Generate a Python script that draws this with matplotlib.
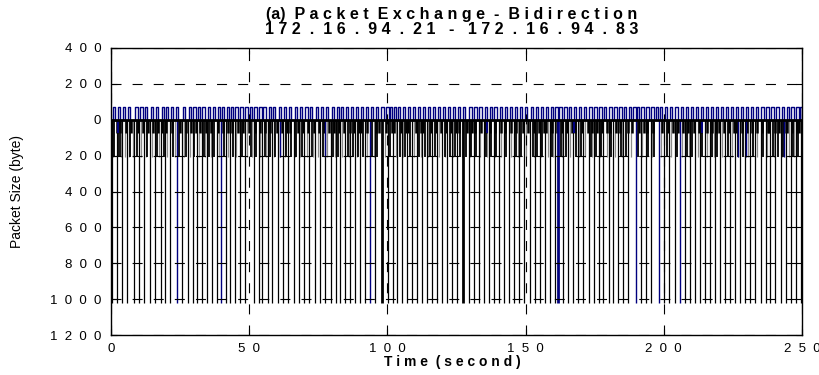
import numpy as np
import matplotlib
matplotlib.use('Agg')
import matplotlib.pyplot as plt

plt.rcParams['font.family'] = ['Liberation Sans', 'DejaVu Sans']

# Packet arrival times (s)
# full size data packets (drawn downwards)
big_t = [0.5, 2.2, 4.1, 5.9, 8.5, 10.3, 12.1, 14.1, 15.9, 18.1, 19.6, 21.4,
         25.8, 28.0, 29.5, 31.0, 32.8, 34.7, 36.5, 38.3, 41.5, 43.1, 44.7,
         46.5, 48.3, 51.6, 53.4, 54.8, 56.8, 58.4, 60.4, 62.3, 64.2, 66.1,
         67.9, 70.0, 71.7, 73.7, 75.7, 77.5, 79.5, 81.4, 83.0, 84.8, 86.6,
         88.4, 90.2, 92.0, 95.4, 100.2, 102.0, 103.6, 105.3, 107.1, 109.0,
         110.7, 112.5, 114.4, 116.2, 118.0, 119.8, 121.6, 123.4, 125.2, 129.4,
         131.2, 133.0, 134.9, 136.7, 138.4, 140.3, 142.1, 144.0, 145.8, 147.5,
         149.4, 151.6, 153.4, 155.2, 157.0, 158.8, 160.5, 163.7, 165.5, 167.3,
         169.0, 170.9, 172.8, 174.6, 176.4, 178.1, 180.0, 181.8, 183.6, 185.4,
         187.2, 191.6, 193.4, 195.2, 200.2, 202.0, 203.9, 207.6, 209.4, 211.2,
         213.1, 214.9, 216.7, 218.5, 220.4, 222.2, 224.0, 225.8, 227.6, 229.5,
         231.3, 233.1, 235.0, 236.8, 238.6, 240.4, 242.3, 244.1, 245.9, 247.7,
         249.6]
thick_t = [98.1, 127.5]
big_blue_t = [23.8, 39.9, 93.6, 189.9, 198.1, 205.8]
thick_blue_t = [161.8]

# small packets, the dense band between 0 and -200
mid_t = [1.2, 2.6, 3.1, 7.0, 9.4, 13.0, 16.8, 19.0, 22.5, 24.6, 27.2, 30.2,
         33.6, 35.5, 37.4, 41.0, 44.0, 47.4, 50.5, 52.6, 55.7, 57.6, 59.4,
         63.2, 65.0, 67.0, 69.1, 72.6, 76.6, 80.4, 82.2, 85.7, 87.5, 89.3,
         91.1, 94.5, 96.4, 101.1, 104.4, 106.2, 108.0, 111.6, 113.5, 115.3,
         117.1, 120.7, 122.5, 124.3, 126.1, 128.4, 130.3, 132.1, 135.8, 137.5,
         139.4, 143.0, 146.7, 148.5, 152.5, 154.3, 156.1, 159.6, 162.8, 164.6,
         168.2, 170.0, 173.7, 175.5, 177.2, 181.0, 184.5, 186.3, 190.7, 194.3,
         196.6, 201.1, 204.8, 208.5, 210.3, 214.0, 217.6, 219.4, 223.1, 226.7,
         228.5, 232.2, 235.9, 239.5, 241.4, 243.2, 246.8, 248.6]
gray_t = [0.9, 3.6, 5.0, 6.6, 8.0, 11.0, 12.8, 14.8, 17.4, 20.4, 23.0, 26.5,
          28.7, 31.8, 34.0, 36.0, 39.0, 42.3, 45.4, 49.2, 51.0, 54.0, 56.2,
          58.9, 61.2, 62.9, 66.6, 68.5, 70.8, 73.0, 74.9, 78.3, 81.0, 83.7,
          86.0, 88.9, 92.6, 95.0, 99.2, 103.0, 105.8, 109.6, 112.0, 114.8,
          118.6, 121.0, 123.8, 127.0, 129.8, 133.6, 136.1, 138.8, 141.2, 144.6,
          147.1, 150.3, 153.0, 155.6, 158.1, 160.0, 163.2, 166.2, 169.5, 171.6,
          174.1, 176.9, 179.3, 182.4, 185.0, 188.1, 192.2, 195.8, 199.0, 202.6,
          206.5, 209.0, 212.2, 215.5, 218.0, 221.0, 224.6, 227.0, 230.3, 233.7,
          237.4, 240.0, 242.8, 245.2, 247.2]
short_t = [2.0, 3.4, 5.4, 7.4, 9.9, 11.5, 13.5, 15.3, 17.0, 18.6, 20.0, 22.0,
           25.1, 27.0, 28.9, 30.6, 32.2, 34.3, 36.2, 38.8, 40.6, 42.2, 43.6,
           45.8, 47.8, 50.0, 52.2, 53.9, 55.6, 57.4, 60.0, 61.7, 63.6, 64.7,
           67.5, 69.5, 71.3, 73.4, 75.2, 77.1, 79.0, 80.8, 82.6, 84.3, 86.3,
           88.0, 89.8, 90.6, 92.8, 95.8, 97.0, 99.5, 101.5, 102.5, 104.8,
           106.7, 107.6, 110.2, 112.0, 113.0, 115.8, 117.6, 119.3, 121.3,
           123.0, 124.8, 125.8, 128.8, 130.7, 131.6, 133.8, 135.5, 137.0,
           139.0, 141.0, 142.6, 144.6, 146.4, 149.0, 150.8, 152.9, 154.8,
           156.6, 157.5, 159.5, 161.3, 163.0, 165.0, 166.8, 167.8, 170.4,
           172.4, 174.0, 175.9, 177.7, 179.3, 180.5, 182.6, 184.2, 186.9,
           188.6, 191.2, 192.8, 193.8, 196.0, 199.4, 201.6, 203.3, 205.2,
           207.1, 208.8, 210.8, 212.6, 213.6, 215.8, 217.4, 219.0, 220.0,
           221.7, 223.6, 225.3, 226.2, 228.2, 230.0, 231.8, 233.8, 235.6,
           237.6, 238.1, 240.2, 241.8, 243.6, 244.6, 246.5, 248.2, 249.0]
blue_mid_t = [61.2, 77.5, 227.0, 229.7, 243.5]
blue_short_t = [2.4, 136.1, 167.4, 214.0]

# ACKs in the other direction (drawn upwards)
ack_t = [0.8, 2.5, 4.4, 6.2, 8.8, 10.6, 12.4, 14.4, 16.2, 18.4, 19.9, 21.7,
         23.5, 26.1, 28.3, 29.8, 31.3, 33.1, 35.0, 36.8, 38.6, 40.2, 41.8,
         43.4, 45.0, 46.8, 48.6, 50.3, 51.9, 53.7, 55.1, 57.1, 58.7, 60.7,
         62.6, 64.5, 66.4, 68.2, 70.3, 72.0, 74.0, 76.0, 77.8, 79.8, 81.7,
         83.3, 85.1, 86.9, 88.7, 90.5, 92.3, 94.0, 95.7, 97.8, 99.6, 101.0,
         102.3, 103.9, 105.6, 107.4, 109.3, 111.0, 112.8, 114.7, 116.5, 118.3,
         120.1, 121.9, 123.7, 125.5, 127.3, 129.7, 131.5, 133.3, 135.2, 137.0,
         138.7, 140.6, 142.4, 144.3, 146.1, 147.8, 149.7, 151.9, 153.7, 155.5,
         157.3, 159.1, 160.8, 162.2, 164.0, 165.8, 167.6, 169.3, 171.2, 173.1,
         174.9, 176.7, 178.4, 180.3, 182.1, 183.9, 185.7, 187.5, 189.0, 190.3,
         191.9, 193.7, 195.5, 197.0, 198.5, 200.5, 202.3, 204.2, 206.1, 207.9,
         209.7, 211.5, 213.4, 215.2, 217.0, 218.8, 220.7, 222.5, 224.3, 226.1,
         227.9, 229.8, 231.6, 233.4, 235.3, 237.1, 238.9, 240.7, 242.6, 244.4,
         246.2, 248.0, 249.3]

data_size = 1020
mid_size = 210
short_size = 75
ack_size = 72

yticks = [400, 200, 0, -200, -400, -600, -800, -1000, -1200]
ytick_labels = ['4  0  0', '2  0  0', '0', '2  0  0', '4  0  0', '6  0  0',
                '8  0  0', '1  0  0  0', '1  2  0  0']
xticks = [0, 50, 100, 150, 200, 250]
xtick_labels = ['0', '5  0', '1  0  0', '1  5  0', '2  0  0', '2  5  0']

navy = '#00007f'

fig = plt.figure(figsize=(8.19, 3.75), dpi=100)
ax = fig.add_axes([111/819, 40/375, 691/819, 287/375])

ax.vlines(gray_t, -mid_size, 0, color='#8c8c8c', lw=0.9)
ax.vlines(mid_t, -mid_size, 0, color='black', lw=1.3)
ax.vlines(short_t, -short_size, 0, color='black', lw=1.8)
ax.vlines(big_t, -data_size, 0, color='black', lw=0.9)
ax.vlines(thick_t, -data_size, 0, color='black', lw=2.0)
ax.vlines(blue_short_t, -short_size, 0, color=navy, lw=1.5)
ax.vlines(blue_mid_t, -mid_size, 0, color=navy, lw=1.0)
ax.vlines(big_blue_t, -data_size, 0, color=navy, lw=1.0)
ax.vlines(thick_blue_t, -data_size, 0, color=navy, lw=2.0)

# each ACK as a narrow pulse
ack_w = 0.8
px, py = [], []
for t in ack_t:
    px += [t, t, t + ack_w, t + ack_w, np.nan]
    py += [0, ack_size, ack_size, 0, np.nan]
ax.plot(px, py, color=navy, lw=1.0)

ax.axhline(0, color='black', lw=2.0, zorder=3)

ax.set_xlim(0, 250)
ax.set_ylim(-1200, 400)
ax.set_xticks(xticks, labels=xtick_labels)
ax.set_yticks(yticks, labels=ytick_labels)
ax.tick_params(direction='in', length=4, top=True, right=True,
               labelsize=9.5, width=0.8)
ax.tick_params(axis='y', pad=7)
ax.tick_params(axis='x', pad=6)
ax.set_axisbelow(False)
ax.grid(True, color='black', linestyle=(0, (9, 10)), lw=0.8)
for s in ax.spines.values():
    s.set_linewidth(1.0)

fig.text(452/819, 1 - 15/375, '(a)  P a c k e t  E x c h a n g e  -  B i d i r e c t i o n',
         ha='center', va='center', fontsize=11.5, fontweight='bold')
fig.text(452/819, 1 - 30/375,
         '1 7 2  .  1 6  .  9 4  .  2 1   -   1 7 2  .  1 6  .  9 4  .  8 3',
         ha='center', va='center', fontsize=11.5, fontweight='bold')
fig.text(17/819, 1 - 191/375, 'Packet Size (byte)', rotation=90,
         ha='center', va='center', fontsize=10)
fig.text(452/819, 1 - 362/375, 'T i m e  ( s e c o n d )',
         ha='center', va='center', fontsize=10, fontweight='bold')

fig.savefig('out.png', dpi=100)
